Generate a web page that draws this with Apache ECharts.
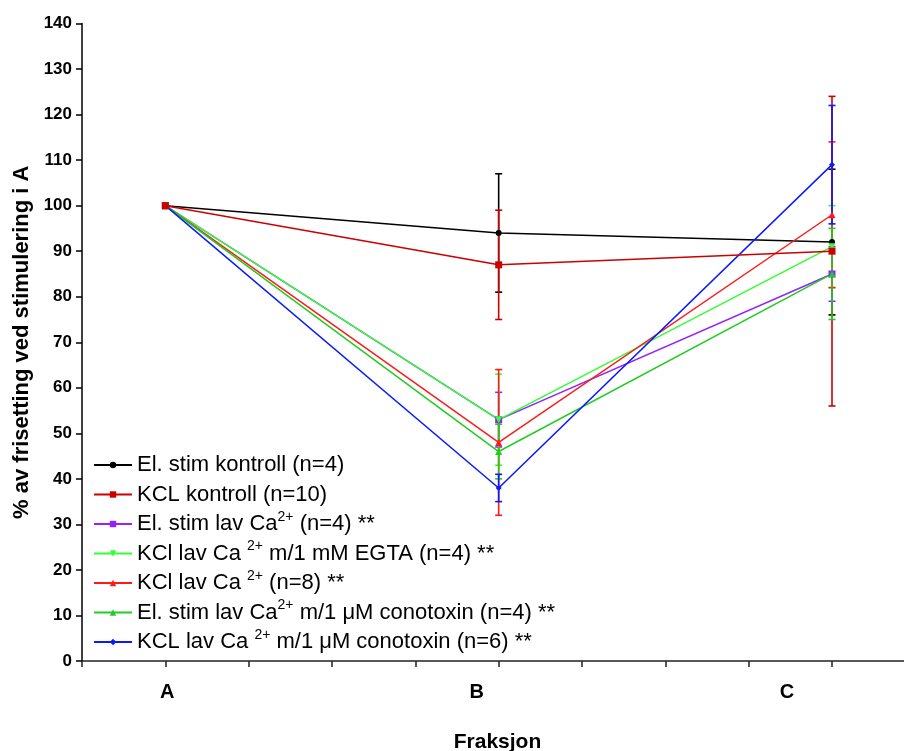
<!DOCTYPE html>
<html>
<head>
<meta charset="utf-8">
<script src="https://cdn.jsdelivr.net/npm/echarts@6/dist/echarts.min.js"></script>
<style>
  html, body { margin: 0; padding: 0; background: #fff; overflow: hidden; }
  #chart { width: 904px; height: 751px; }
</style>
</head>
<body>
<div id="chart"></div>
<script>
// fraksjoner (x-posisjon 1, 2, 3)
var fractions = ['A', 'B', 'C'];
var xPos = [1, 2, 3];

// navn i legenden
var seriesNames = [
    'El. stim kontroll (n=4)',
    'KCL kontroll (n=10)',
    'El. stim lav Ca2+ (n=4) **',
    'KCl lav Ca2+ m/1 mM EGTA (n=4) **',
    'KCl lav Ca2+ (n=8) **',
    'El. stim lav Ca2+ m/1 μM conotoxin (n=4) **',
    'KCL lav Ca2+ m/1 μM conotoxin (n=6) **'
];
var legendLabels = [
    'El. stim kontroll (n=4)',
    'KCL kontroll (n=10)',
    'El. stim lav Ca{sup|2+} (n=4) **',
    'KCl lav Ca {sup|2+} m/1 mM EGTA (n=4) **',
    'KCl lav Ca {sup|2+} (n=8) **',
    'El. stim lav Ca{sup|2+} m/1 μM conotoxin (n=4) **',
    'KCL lav Ca {sup|2+} m/1 μM conotoxin (n=6) **'
];

// middelverdier
var elStimKontroll = [100, 94, 92];
var kclKontroll = [100, 87, 90];
var elStimLavCa = [100, 53, 85];
var kclEgta = [100, 53, 91];
var kclLavCa = [100, 48, 98];
var elStimCono = [100, 46, 85];
var kclCono = [100, 38, 109];

// feilstolper (+/-)
var elStimKontrollErr = [0, 13, 16];
var kclKontrollErr = [0, 12, 34];
var elStimLavCaErr = [0, 6, 6];
var kclEgtaErr = [0, 10, 9];
var kclLavCaErr = [0, 16, 16];
var elStimConoErr = [0, 6, 10];
var kclConoErr = [0, 3, 13];

var means = [elStimKontroll, kclKontroll, elStimLavCa, kclEgta, kclLavCa, elStimCono, kclCono];
var errs = [elStimKontrollErr, kclKontrollErr, elStimLavCaErr, kclEgtaErr, kclLavCaErr, elStimConoErr, kclConoErr];

var colors = ['#000000', '#cc0000', '#9322ff', '#33ff33', '#ff1a1a', '#22cc22', '#0a1aff'];
var symbols = ['circle', 'rect', 'rect', 'triangle', 'triangle', 'triangle', 'diamond'];
var symbolSizes = [6, 7, 7, 7, 7, 7, 6];
var symbolRotates = [0, 0, 0, 180, 0, 0, 0];

var fontName = 'Arial, "Liberation Sans", sans-serif';

var chart = echarts.init(document.getElementById('chart'));

var series = [];
// feilstolper først, så de ligger under linjene
means.forEach(function (m, i) {
    series.push({
        type: 'custom',
        name: seriesNames[i] + ' err',
        z: 1,
        silent: true,
        data: xPos.map(function (x, k) { return [x, m[k], errs[i][k]]; }),
        renderItem: function (params, api) {
            var e = api.value(2);
            if (!e) return null;
            var x = api.value(0), y = api.value(1);
            var top = api.coord([x, y + e]);
            var bot = api.coord([x, y - e]);
            var w = 3.5;
            var st = { stroke: colors[i], lineWidth: 1.6 };
            return {
                type: 'group',
                children: [
                    { type: 'line', shape: { x1: top[0], y1: top[1], x2: bot[0], y2: bot[1] }, style: st },
                    { type: 'line', shape: { x1: top[0] - w, y1: top[1], x2: top[0] + w, y2: top[1] }, style: st },
                    { type: 'line', shape: { x1: bot[0] - w, y1: bot[1], x2: bot[0] + w, y2: bot[1] }, style: st }
                ]
            };
        }
    });
});
means.forEach(function (m, i) {
    series.push({
        type: 'line',
        name: seriesNames[i],
        z: 2 + (i === 1 ? 1 : 0),
        data: xPos.map(function (x, k) { return [x, m[k]]; }),
        symbol: symbols[i],
        symbolSize: symbolSizes[i],
        symbolRotate: symbolRotates[i],
        showAllSymbol: true,
        color: colors[i],
        lineStyle: { width: 1.5, color: colors[i] },
        itemStyle: { color: colors[i] },
        animation: false
    });
});

var xLabelRich = {
    a: { fontSize: 20, fontWeight: 'bold', fontFamily: fontName, color: '#000', padding: [0, 0, 0, 4] },
    b: { fontSize: 20, fontWeight: 'bold', fontFamily: fontName, color: '#000', padding: [0, 44, 0, 0] },
    c: { fontSize: 20, fontWeight: 'bold', fontFamily: fontName, color: '#000', padding: [0, 90, 0, 0] }
};

var option = {
    backgroundColor: '#fff',
    animation: false,
    textStyle: { fontFamily: fontName },
    grid: { left: 82, right: -5, top: 23.5, bottom: 90, outerBoundsMode: 'none' },
    legend: {
        data: seriesNames,
        orient: 'vertical',
        left: 93,
        top: 451,
        padding: 0,
        itemWidth: 38,
        itemHeight: 8,
        itemGap: 1.5,
        formatter: function (name) {
            return legendLabels[seriesNames.indexOf(name)];
        },
        textStyle: {
            fontSize: 22,
            lineHeight: 28,
            color: '#000',
            fontFamily: fontName,
            rich: {
                sup: { fontSize: 14, lineHeight: 10, verticalAlign: 'top', color: '#000', fontFamily: fontName }
            }
        }
    },
    xAxis: {
        type: 'value',
        min: 0.75,
        max: 3.231,
        interval: 0.25,
        name: 'Fraksjon',
        nameLocation: 'middle',
        nameGap: 71,
        nameTextStyle: { fontSize: 21, fontWeight: 'bold', color: '#000', fontFamily: fontName, padding: [0, 0, 0, 4] },
        splitLine: { show: false },
        axisLine: { lineStyle: { color: '#222', width: 1.5 } },
        axisTick: { length: 6, lineStyle: { color: '#222', width: 1.5 } },
        axisLabel: {
            margin: 21,
            formatter: function (v) {
                var idx = xPos.indexOf(Math.round(v * 100) / 100);
                if (idx < 0) return '';
                var key = ['a', 'b', 'c'][idx];
                return '{' + key + '|' + fractions[idx] + '}';
            },
            rich: xLabelRich
        }
    },
    yAxis: {
        type: 'value',
        min: 0,
        max: 140,
        interval: 10,
        name: '% av frisetting ved stimulering i A',
        nameLocation: 'middle',
        nameGap: 47,
        nameTextStyle: { fontSize: 22, fontWeight: 'bold', color: '#000', fontFamily: fontName },
        splitLine: { show: false },
        axisLine: { show: true, lineStyle: { color: '#000', width: 1.5 } },
        axisTick: { show: true, length: 6, lineStyle: { color: '#000', width: 1.5 } },
        axisLabel: { margin: 10, fontSize: 17, fontWeight: 'bold', color: '#000', fontFamily: fontName }
    },
    series: series
};

chart.setOption(option);
</script>
</body>
</html>
